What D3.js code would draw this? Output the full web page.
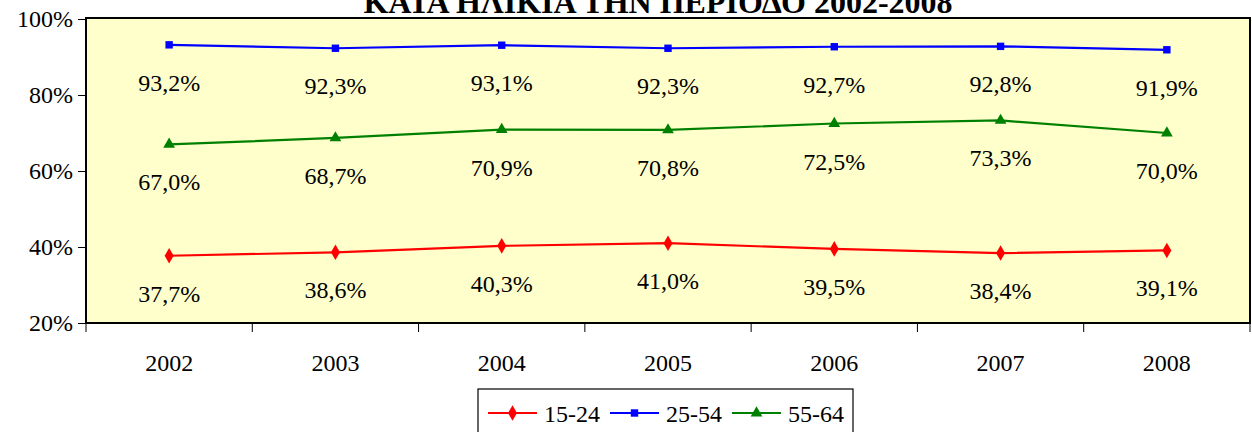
<!DOCTYPE html>
<html>
<head>
<meta charset="utf-8">
<script src="https://cdn.jsdelivr.net/npm/d3@7"></script>
<style>
    body { margin: 0; background: #fff; }
    svg, svg text { font-family: "Liberation Serif", "Times New Roman", serif; }
</style>
</head>
<body>
<div id="graph"></div>
<script>
let years = ["2002", "2003", "2004", "2005", "2006", "2007", "2008"];
let youth = [37.7, 38.6, 40.3, 41.0, 39.5, 38.4, 39.1];
let prime = [93.2, 92.3, 93.1, 92.3, 92.7, 92.8, 91.9];
let older = [67.0, 68.7, 70.9, 70.8, 72.5, 73.3, 70.0];
let yTicks = [20, 40, 60, 80, 100];

let series = [
    {name: "15-24", values: youth, color: "#ff0000", symbol: d3.symbolDiamond, size: 70},
    {name: "25-54", values: prime, color: "#0000ff", symbol: d3.symbolSquare, size: 55},
    {name: "55-64", values: older, color: "#008000", symbol: d3.symbolTriangle, size: 60}
];

let width = 1252;
let height = 432;

let svg = d3.select("#graph").append("svg")
    .attr("width", width)
    .attr("height", height);

let x_scale = d3.scaleBand()
    .domain(years)
    .range([86, 1250]);

let y_scale = d3.scaleLinear()
    .domain([20, 100])
    .range([323, 19]);

let cx = d => x_scale(d) + x_scale.bandwidth() / 2;

// title, cut off at the top like the original
svg.append("text")
    .attr("x", 658)
    .attr("y", 13)
    .attr("text-anchor", "middle")
    .attr("font-size", 32)
    .attr("font-weight", "bold")
    .text("ΚΑΤΑ ΗΛΙΚΙΑ ΤΗΝ ΠΕΡΙΟΔΟ 2002-2008");

// plot area
svg.append("rect")
    .attr("x", 86)
    .attr("y", 18)
    .attr("width", 1250 - 86)
    .attr("height", 323 - 18)
    .attr("fill", "#ffffcc")
    .attr("stroke", "#000")
    .attr("stroke-width", 2);

// y axis
let yAxis = svg.append("g")
    .attr("transform", "translate(86,0)")
    .call(d3.axisLeft(y_scale).tickValues(yTicks).tickSize(8).tickPadding(5).tickFormat(d => d + "%"))
    .attr("font-family", null)
    .attr("font-size", 24);
yAxis.select(".domain").remove();
yAxis.selectAll("line").attr("stroke", "#000");
yAxis.selectAll("text").attr("fill", "#000");

// x axis: ticks on category boundaries
let xAxis = svg.append("g")
    .attr("transform", "translate(0,323)");
xAxis.selectAll("line")
    .data(years.concat(["end"]))
    .enter().append("line")
    .attr("x1", (d, i) => 86 + i * x_scale.bandwidth())
    .attr("x2", (d, i) => 86 + i * x_scale.bandwidth())
    .attr("y1", 0)
    .attr("y2", 9)
    .attr("stroke", "#000");
xAxis.selectAll("text")
    .data(years)
    .enter().append("text")
    .attr("x", d => cx(d))
    .attr("y", 48)
    .attr("text-anchor", "middle")
    .attr("font-size", 24)
    .text(d => d);

let valueLine = d3.line()
    .x((d, i) => cx(years[i]))
    .y(d => y_scale(d));

let groups = svg.selectAll(".series")
    .data(series)
    .enter().append("g")
    .attr("class", "series");

groups.append("path")
    .attr("d", d => valueLine(d.values))
    .attr("fill", "none")
    .attr("stroke", d => d.color)
    .attr("stroke-width", 2.2);

groups.each(function (s) {
    let g = d3.select(this);
    g.selectAll("path.marker")
        .data(s.values)
        .enter().append("path")
        .attr("class", "marker")
        .attr("transform", (d, i) => `translate(${cx(years[i])},${y_scale(d)})`)
        .attr("d", d3.symbol().type(s.symbol).size(s.size))
        .attr("fill", s.color);

    g.selectAll("text")
        .data(s.values)
        .enter().append("text")
        .attr("x", (d, i) => cx(years[i]))
        .attr("y", d => y_scale(d) + 46)
        .attr("text-anchor", "middle")
        .attr("font-size", 24)
        .text(d => d.toFixed(1).replace(".", ",") + "%");
});

// legend
let legend = svg.append("g");
legend.append("rect")
    .attr("x", 478)
    .attr("y", 389)
    .attr("width", 375)
    .attr("height", 60)
    .attr("fill", "#fff")
    .attr("stroke", "#000")
    .attr("stroke-width", 1.2);

let items = legend.selectAll(".item")
    .data(series)
    .enter().append("g")
    .attr("transform", (d, i) => `translate(${488 + i * 122},413)`);

items.append("line")
    .attr("x1", 0)
    .attr("x2", 49)
    .attr("stroke", d => d.color)
    .attr("stroke-width", 2.2);
items.append("path")
    .attr("transform", "translate(24.5,0)")
    .attr("d", d => d3.symbol().type(d.symbol).size(d.size)())
    .attr("fill", d => d.color);
items.append("text")
    .attr("x", 56)
    .attr("y", 9)
    .attr("font-size", 24)
    .text(d => d.name);
</script>
</body>
</html>
